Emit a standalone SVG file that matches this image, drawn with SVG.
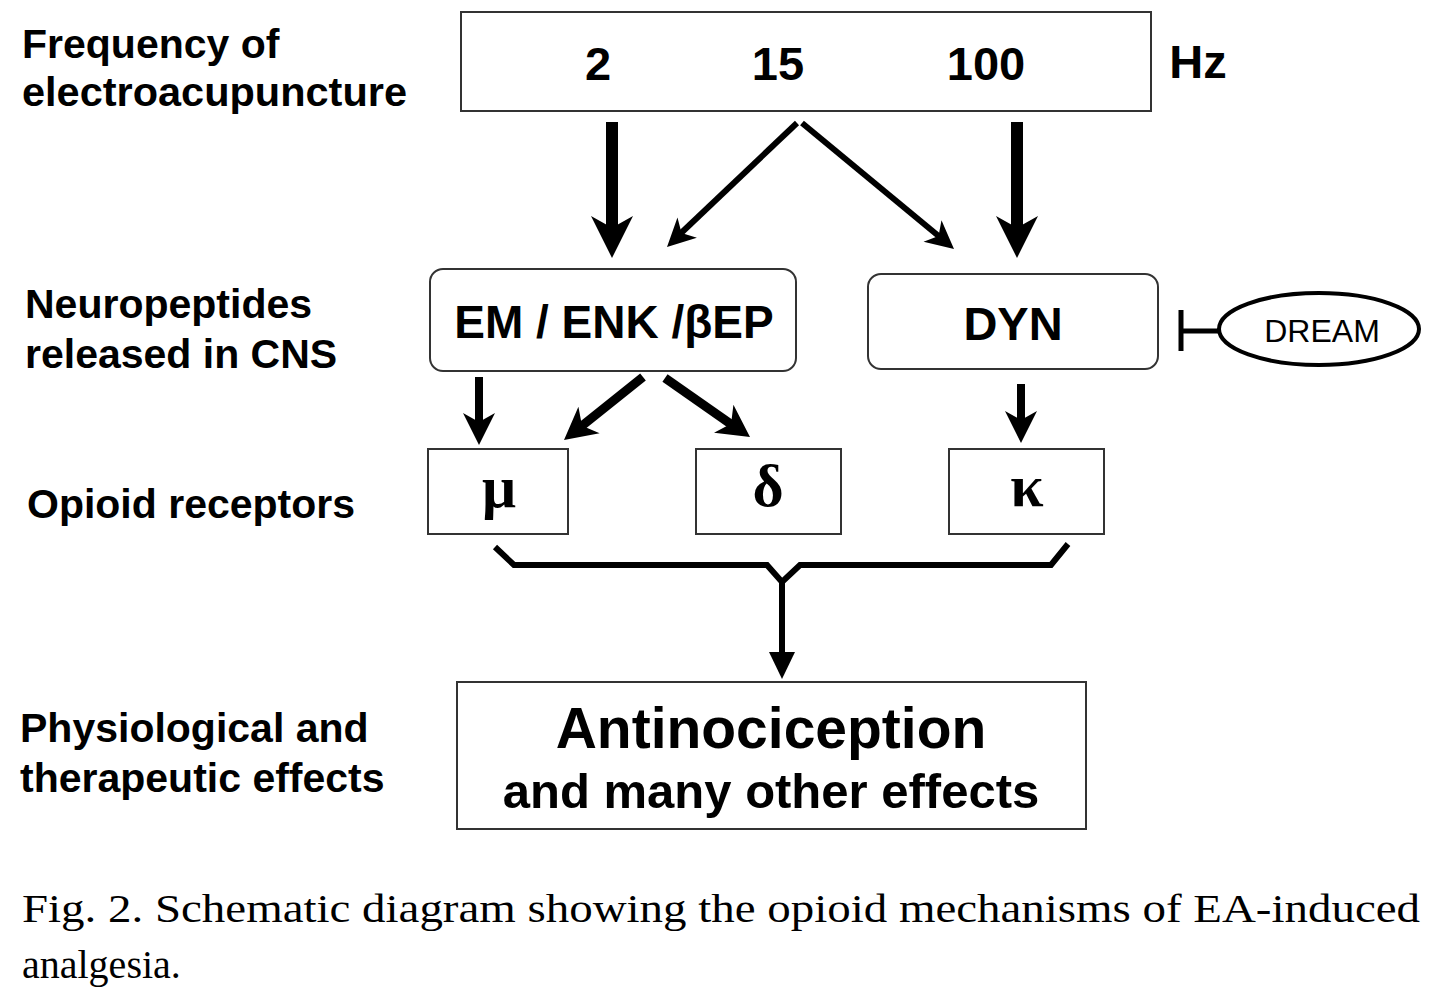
<svg xmlns="http://www.w3.org/2000/svg" xmlns:xlink="http://www.w3.org/1999/xlink" width="1442" height="1000" viewBox="0 0 1442 1000">
<style>
.lbl{font-family:"Liberation Sans",Arial,sans-serif;font-weight:bold;font-size:41px;fill:#000}
.box{fill:#fff;stroke:#333;stroke-width:2}
.bt{font-family:"Liberation Sans",Arial,sans-serif;font-weight:bold;fill:#000;text-anchor:middle}
.gr{font-family:"Liberation Serif","DejaVu Serif",serif;font-weight:bold;font-size:60px;fill:#000;text-anchor:middle}
.cap{font-family:"Liberation Serif","Times New Roman",serif;font-size:40px;fill:#000}
.ln{stroke:#000;fill:none}
</style>
<defs>
<path id="hd" d="M0,0 L-1,-1 L0,-0.72 L1,-1 Z" fill="#000"/>
</defs>
<rect width="1442" height="1000" fill="#fff"/>

<g id="labels">
<text class="lbl" x="22" y="58">Frequency of</text>
<text class="lbl" x="22" y="106" textLength="385" lengthAdjust="spacingAndGlyphs">electroacupuncture</text>
<text class="lbl" x="25" y="318">Neuropeptides</text>
<text class="lbl" x="25" y="368">released in CNS</text>
<text class="lbl" x="27" y="518">Opioid receptors</text>
<text class="lbl" x="20" y="742">Physiological and</text>
<text class="lbl" x="20" y="792">therapeutic effects</text>
</g>

<g id="freq">
<rect class="box" x="461" y="12" width="690" height="99"/>
<text class="bt" x="598" y="80" font-size="47">2</text>
<text class="bt" x="778" y="80" font-size="47">15</text>
<text class="bt" x="986" y="80" font-size="47">100</text>
</g>
<text class="bt" x="1198" y="78" font-size="47">Hz</text>

<g id="emenk">
<rect class="box" x="430" y="269" width="366" height="102" rx="13"/>
<text class="bt" x="614" y="338" font-size="46">EM / ENK /βEP</text>
</g>
<g id="dyn">
<rect class="box" x="868" y="274" width="290" height="95" rx="13"/>
<text class="bt" x="1013" y="340" font-size="47">DYN</text>
</g>
<g id="dream">
<ellipse cx="1319" cy="329" rx="100" ry="36" fill="#fff" stroke="#000" stroke-width="4"/>
<text x="1322" y="342" font-family="Liberation Sans,Arial,sans-serif" font-size="32" text-anchor="middle">DREAM</text>
</g>

<g id="mu">
<rect class="box" x="428" y="449" width="140" height="85"/>
<text class="gr" x="499" y="507">μ</text>
</g>
<g id="delta">
<rect class="box" x="696" y="449" width="145" height="85"/>
<text class="gr" x="768" y="506">δ</text>
</g>
<g id="kappa">
<rect class="box" x="949" y="449" width="155" height="85"/>
<text class="gr" x="1027" y="506">κ</text>
</g>

<g id="effects">
<rect class="box" x="457" y="682" width="629" height="147"/>
<text class="bt" x="771" y="748" font-size="57">Antinociception</text>
<text class="bt" x="771" y="808" font-size="49">and many other effects</text>
</g>

<g id="connectors">
<line class="ln" x1="612" y1="122" x2="612" y2="232" stroke-width="12"/>
<use xlink:href="#hd" transform="translate(612,258) scale(21,42)"/>
<line class="ln" x1="1017" y1="122" x2="1017" y2="232" stroke-width="12"/>
<use xlink:href="#hd" transform="translate(1017,258) scale(21,42)"/>
<line class="ln" x1="797" y1="123" x2="679" y2="235" stroke-width="6"/>
<use xlink:href="#hd" transform="translate(667,247) rotate(46.1) scale(14,28)"/>
<line class="ln" x1="802" y1="123" x2="941" y2="238" stroke-width="6"/>
<use xlink:href="#hd" transform="translate(954,249) rotate(-50.1) scale(14,28)"/>
<line class="ln" x1="479" y1="377" x2="479" y2="426" stroke-width="8"/>
<use xlink:href="#hd" transform="translate(479,445) scale(16,32)"/>
<line class="ln" x1="643" y1="377" x2="578" y2="429" stroke-width="9"/>
<use xlink:href="#hd" transform="translate(564,440) rotate(51.4) scale(17,32)"/>
<line class="ln" x1="665" y1="378" x2="735" y2="427" stroke-width="9"/>
<use xlink:href="#hd" transform="translate(750,437) rotate(-55.2) scale(17,32)"/>
<line class="ln" x1="1021" y1="384" x2="1021" y2="424" stroke-width="8"/>
<use xlink:href="#hd" transform="translate(1021,443) scale(16,32)"/>
<line class="ln" x1="1181" y1="310" x2="1181" y2="351" stroke-width="5"/>
<line class="ln" x1="1181" y1="331" x2="1220" y2="331" stroke-width="5"/>
<path class="ln" d="M495,547 L514,565 L767,565 L782,582 L800,565 L1051,565 L1068,544" stroke-width="6" stroke-linejoin="miter"/>
<line class="ln" x1="782" y1="580" x2="782" y2="655" stroke-width="6"/>
<polygon points="769,652 795,652 782,679" fill="#000"/>
</g>

<g id="caption">
<text class="cap" x="22" y="922" textLength="1398" lengthAdjust="spacingAndGlyphs">Fig. 2. Schematic diagram showing the opioid mechanisms of EA-induced</text>
<text class="cap" x="22" y="978">analgesia.</text>
</g>
</svg>
